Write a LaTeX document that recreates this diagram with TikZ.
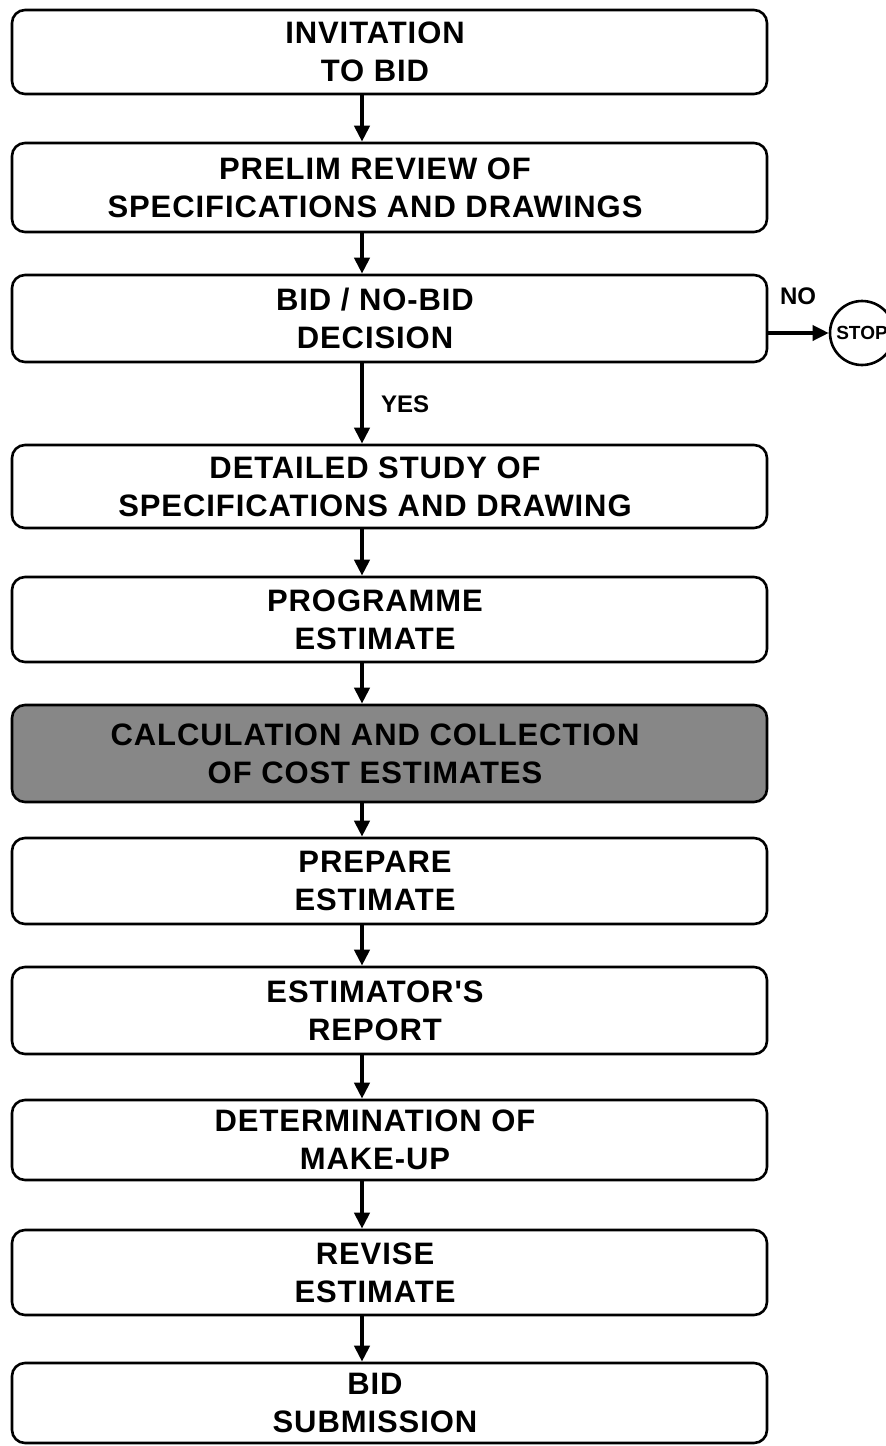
\documentclass[tikz,border=0pt]{standalone}
\usepackage{fontspec}
\setmainfont{Liberation Sans}
\newfontfamily\stepfont[LetterSpace=3]{Liberation Sans}
\usetikzlibrary{arrows.meta}

\tikzset{
  x=1pt, y=-1pt,
  stepbox/.style={draw=black, line width=2.6pt, rounded corners=13pt,
    minimum width=755pt, inner sep=0pt},
  shadedbox/.style={stepbox, fill=black!47},
  steptext/.style={align=center, inner sep=0pt,
    font=\stepfont\bfseries\fontsize{31}{38}\selectfont},
  flow/.style={line width=4.5pt,
    -{Triangle[width=15pt,length=16pt]}},
  smalllabel/.style={inner sep=0pt, font=\bfseries\fontsize{24}{28}\selectfont},
  stopnode/.style={circle, draw=black, line width=2.6pt, minimum size=64pt,
    inner sep=0pt, font=\bfseries\fontsize{19}{22}\selectfont}
}

\newcommand{\stepat}[5]{%
  % #1 name, #2 top y, #3 bottom y, #4 style, #5 text
  \node[#4, minimum height={#3-#2}] (#1) at (389.5,{(#2+#3)/2}) {};
  \node[steptext] (#1t) at (375,{(#2+#3)/2}) {#5};
}

\begin{document}
\begin{tikzpicture}
\useasboundingbox (0,0) rectangle (886,1446);

\coordinate (ax) at (362,0);

\stepat{b1}{10}{94}{stepbox}{INVITATION\\TO BID}
\stepat{b2}{143}{232}{stepbox}{PRELIM REVIEW OF\\SPECIFICATIONS AND DRAWINGS}
\stepat{b3}{275}{362}{stepbox}{BID / NO-BID\\DECISION}
\stepat{b4}{445}{528}{stepbox}{DETAILED STUDY OF\\SPECIFICATIONS AND DRAWING}
\stepat{b5}{577}{662}{stepbox}{PROGRAMME\\ESTIMATE}
\stepat{b6}{705}{802}{shadedbox}{CALCULATION AND COLLECTION\\OF COST ESTIMATES}
\stepat{b7}{838}{924}{stepbox}{PREPARE\\ESTIMATE}
\stepat{b8}{967}{1054}{stepbox}{ESTIMATOR'S\\REPORT}
\stepat{b9}{1100}{1180}{stepbox}{DETERMINATION OF\\MAKE-UP}
\stepat{b10}{1230}{1315}{stepbox}{REVISE\\ESTIMATE}
\stepat{b11}{1363}{1443}{stepbox}{BID\\SUBMISSION}

% vertical flow
\foreach \a/\b in {b1/b2,b2/b3,b3/b4,b4/b5,b5/b6,b6/b7,b7/b8,b8/b9,b9/b10,b10/b11}
  \draw[flow] (\a.south -| ax) -- (\b.north -| ax);

\node[smalllabel, anchor=west] (yes) at (381,404) {YES};

% no-bid exit
\node[stopnode] (stop) at (862,333) {STOP};
\draw[flow, line width=3.5pt] (b3.east |- stop) -- (stop.west);
\node[smalllabel] (no) at (798,296) {NO};

\end{tikzpicture}
\end{document}
